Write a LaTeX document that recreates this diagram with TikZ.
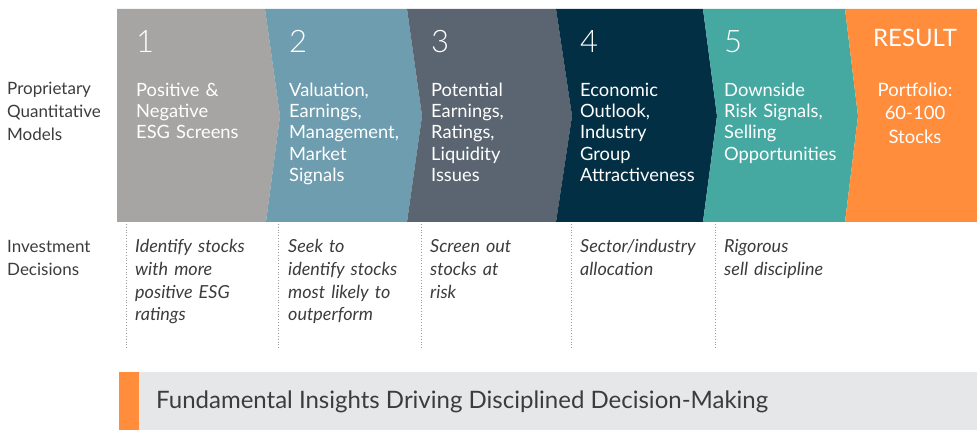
\documentclass[tikz,border=0pt]{standalone}
\usepackage{fontspec}
\setmainfont{Lato}
\newfontfamily\lightfont{Lato Light}
\definecolor{cgray}{HTML}{A6A5A3}
\definecolor{cblue}{HTML}{6E9DAF}
\definecolor{cslate}{HTML}{5A6571}
\definecolor{cnavy}{HTML}{032F45}
\definecolor{cteal}{HTML}{45A8A1}
\definecolor{corange}{HTML}{FF8D3C}
\definecolor{cbanner}{HTML}{E6E7E8}
\definecolor{ctext}{HTML}{3C3C3C}
\definecolor{cdot}{HTML}{9A9A9A}
\begin{document}
\begin{tikzpicture}[x=1pt,y=-1pt,
  numtxt/.style={anchor=base west,inner sep=0pt,text=white,font=\lightfont\fontsize{31}{31}\selectfont},
  bodytxt/.style={anchor=base west,inner sep=0pt,text=white,text width=140pt,align=left,font=\fontsize{18.3}{21.2}\selectfont},
  restxt/.style={anchor=base,inner sep=0pt,text=white,text width=120pt,align=center},
  sidetxt/.style={anchor=base west,inner sep=0pt,text=ctext,text width=110pt,align=left,font=\fontsize{17}{22.6}\selectfont},
  dectxt/.style={anchor=base west,inner sep=0pt,text=ctext,text width=140pt,align=left,font=\itshape\fontsize{18}{22.6}\selectfont},
  sepline/.style={draw=cdot,dotted,line width=0.8pt}]
\useasboundingbox (0,0) rectangle (977,430);
% chevrons
\fill[cgray]   (117,9) -- (265,9) -- (280,116) -- (266,222) -- (117,222) -- cycle;
\fill[cblue]   (265,9) -- (407,9) -- (422,116) -- (407,222) -- (266,222) -- (280,116) -- cycle;
\fill[cslate]  (407,9) -- (556,9) -- (572,116) -- (556,222) -- (407,222) -- (422,116) -- cycle;
\fill[cnavy]   (556,9) -- (703,9) -- (717,116) -- (703,222) -- (556,222) -- (572,116) -- cycle;
\fill[cteal]   (703,9) -- (845,9) -- (858,116) -- (845,222) -- (703,222) -- (717,116) -- cycle;
\fill[corange] (845,9) -- (977,9) -- (977,222) -- (845,222) -- (858,116) -- cycle;
% numbers
\node[numtxt] (n1) at (136,53) {1};
\node[numtxt] (n2) at (289,53) {2};
\node[numtxt] (n3) at (431,53) {3};
\node[numtxt] (n4) at (580,53) {4};
\node[numtxt] (n5) at (724,53) {5};
\node[restxt,font=\fontsize{24}{24}\selectfont] (res) at (915,47) {RESULT};
% step texts
\node[bodytxt] (t1) at (136,96.5) {Positive \&\\Negative\\ESG Screens};
\node[bodytxt] (t2) at (289,96.5) {Valuation,\\Earnings,\\Management,\\Market\\Signals};
\node[bodytxt] (t3) at (431,96.5) {Potential\\Earnings,\\Ratings,\\Liquidity\\Issues};
\node[bodytxt] (t4) at (580,96.5) {Economic\\Outlook,\\Industry\\Group\\Attractiveness};
\node[bodytxt] (t5) at (724,96.5) {Downside\\Risk Signals,\\Selling\\Opportunities};
\node[restxt,font=\fontsize{18.5}{23.3}\selectfont] (t6) at (915,96.5) {Portfolio:\\60-100\\Stocks};
% side labels
\node[sidetxt] (models) at (7,95) {Proprietary\\Quantitative\\Models};
\node[sidetxt] (decis) at (7,252.5) {Investment\\Decisions};
% decisions
\node[dectxt] (d1) at (135,253) {Identify stocks\\with more\\positive ESG\\ratings};
\node[dectxt] (d2) at (288,253) {Seek to\\identify stocks\\most likely to\\outperform};
\node[dectxt] (d3) at (430,253) {Screen out\\stocks at\\risk};
\node[dectxt] (d4) at (580,253) {Sector/industry\\allocation};
\node[dectxt] (d5) at (724,253) {Rigorous\\sell discipline};
% dotted separators
\foreach \xx in {126,278,421,571,715}
  \draw[sepline] (\xx,224) -- (\xx,348);
% banner
\fill[cbanner] (139,372) rectangle (977,430);
\fill[corange] (119,372) rectangle (139,430);
\node[anchor=base west,inner sep=0pt,text=ctext,font=\fontsize{24}{24}\selectfont] (banner) at (156,408.5) {Fundamental Insights Driving Disciplined Decision-Making};
\end{tikzpicture}
\end{document}
